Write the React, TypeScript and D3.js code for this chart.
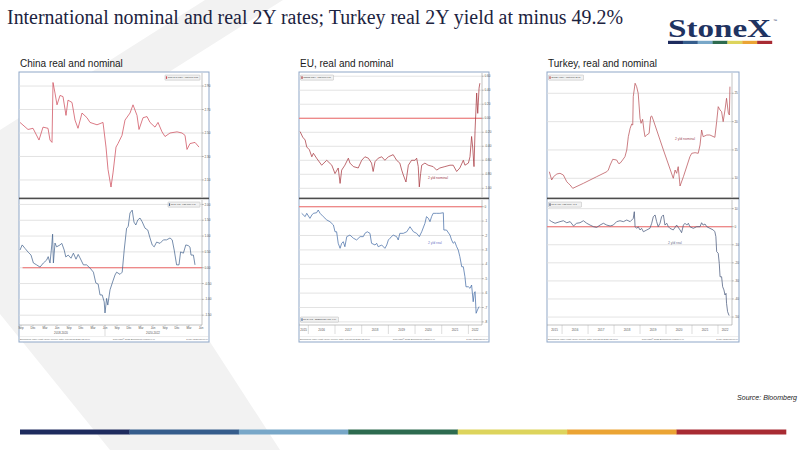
import React from "react";
import * as d3 from "d3";

type Pt = [number, number];

// ---------- DATA ----------
// China: x = months since mid-2018 (Bloomberg weekly chart), y = yield %
const chinaNominal: Pt[] = [
  [0.25, 2.59], [2.25, 2.53], [3.5, 2.54], [5, 2.44], [6, 2.55], [7.25, 2.54], [7.75, 2.44], [8.25, 2.42],
  [8.5, 2.93], [9, 2.84], [9.5, 2.74], [10.25, 2.82], [11, 2.81], [11.75, 2.65], [12.25, 2.78], [13.25, 2.76],
  [14, 2.61], [14.75, 2.54], [15.75, 2.67], [17, 2.63], [17.75, 2.59], [19.5, 2.57], [21, 2.59], [21.75, 2.38],
  [22.25, 2.19], [23, 2.04], [23.5, 2.16], [24.25, 2.38], [24.75, 2.41], [25.75, 2.48], [26.5, 2.61], [27.75, 2.67],
  [28.5, 2.74], [29.5, 2.65], [30, 2.53], [31, 2.63], [32, 2.64], [32.75, 2.59], [34, 2.55], [34.75, 2.59],
  [35.75, 2.51], [36.5, 2.47], [37.75, 2.5], [39.5, 2.51], [40.75, 2.5], [41.5, 2.48], [42, 2.36], [42.75, 2.41],
  [44, 2.42], [45, 2.38],
];
const chinaReal: Pt[] = [
  [0.25, 0.56], [0.8, 0.72], [1.5, 0.61], [2.3, 0.49], [3, 0.4], [3.6, 0.15], [4.4, 0.09], [5.25, 0.02],
  [6.1, 0.15], [6.9, 0.24], [7.3, 0.35], [7.75, 0.15], [8.2, 0.72], [8.4, 1.06], [8.6, 0.15], [9, 0.78],
  [9.4, 0.66], [10.25, 0.72], [10.7, 0.77], [11.3, 0.56], [11.7, 0.34], [12.3, 0.4], [13, 0.3], [13.6, 0.46],
  [14.25, 0.27], [14.8, 0.42], [15.25, 0.31], [16.1, 0.09], [16.9, 0.09], [17.75, -0.01], [18.6, -0.14],
  [19.2, -0.48], [19.8, -0.52], [20.25, -0.86], [20.8, -0.86], [21.3, -1.08], [21.5, -1.43], [21.9, -0.97],
  [22.2, -1.18], [22.75, -0.7], [23.4, -0.45], [24, -0.23], [24.4, -0.14], [25.25, -0.21], [25.8, -0.14],
  [26.3, 0.56], [26.9, 1.25], [27.3, 1.3], [27.75, 1.73], [28.3, 1.82], [28.75, 1.44], [29.2, 1.35],
  [29.7, 1.51], [30.25, 1.57], [30.8, 1.45], [31.5, 1.25], [32.2, 1.19], [32.75, 0.94], [33.3, 0.72],
  [33.8, 0.66], [34.4, 0.81], [35.25, 0.77], [36.1, 0.88], [36.9, 0.88], [37.75, 0.94], [38.3, 0.88],
  [38.8, 0.56], [39.4, 0.09], [40, 0.09], [40.4, 0.5], [41.1, 0.46], [41.7, 0.72], [42.3, 0.7], [42.75, 0.65],
  [43, 0.4], [43.6, 0.4], [44, 0.09],
];

// EU: x = decimal year, y = yield %
const euNominal: Pt[] = [
  [2015.69, -0.19], [2015.79, -0.27], [2015.88, -0.31], [2015.94, -0.41], [2016.04, -0.45], [2016.13, -0.55],
  [2016.19, -0.5], [2016.31, -0.57], [2016.5, -0.67], [2016.69, -0.6], [2016.88, -0.67], [2017.0, -0.79],
  [2017.12, -0.71], [2017.19, -0.93], [2017.25, -0.74], [2017.37, -0.67], [2017.5, -0.57], [2017.56, -0.64],
  [2017.69, -0.69], [2017.87, -0.71], [2018.0, -0.6], [2018.12, -0.55], [2018.25, -0.57], [2018.37, -0.64],
  [2018.43, -0.76], [2018.5, -0.62], [2018.62, -0.57], [2018.75, -0.55], [2018.87, -0.6], [2019.0, -0.55],
  [2019.18, -0.52], [2019.31, -0.6], [2019.43, -0.64], [2019.5, -0.74], [2019.56, -0.81], [2019.66, -0.91],
  [2019.75, -0.67], [2019.87, -0.6], [2020.0, -0.6], [2020.06, -0.57], [2020.12, -0.69], [2020.16, -0.98],
  [2020.21, -0.79], [2020.25, -0.67], [2020.37, -0.64], [2020.49, -0.67], [2020.68, -0.69], [2020.81, -0.74],
  [2020.93, -0.71], [2021.12, -0.69], [2021.31, -0.67], [2021.43, -0.67], [2021.56, -0.76], [2021.68, -0.71],
  [2021.81, -0.6], [2021.87, -0.67], [2022.0, -0.64], [2022.06, -0.55], [2022.12, -0.26], [2022.16, -0.41],
  [2022.21, -0.69], [2022.25, -0.17], [2022.31, 0.36], [2022.35, 0.07], [2022.4, 0.43], [2022.43, 0.5],
];
const euReal: Pt[] = [
  [2015.75, -0.46], [2015.88, -0.69], [2015.94, -0.46], [2016.06, -0.81], [2016.13, -0.58], [2016.19, -0.46],
  [2016.31, -0.42], [2016.37, -0.23], [2016.44, -0.46], [2016.56, -0.69], [2016.69, -0.92], [2016.81, -1.04],
  [2016.94, -1.27], [2017.0, -1.74], [2017.06, -1.74], [2017.12, -2.54], [2017.19, -2.89], [2017.25, -2.54],
  [2017.31, -2.43], [2017.37, -2.78], [2017.44, -2.08], [2017.56, -1.97], [2017.69, -2.19], [2017.81, -2.31],
  [2017.94, -2.08], [2018.06, -2.08], [2018.12, -1.85], [2018.21, -1.74], [2018.31, -1.85], [2018.37, -2.54],
  [2018.5, -2.66], [2018.56, -2.54], [2018.62, -2.78], [2018.75, -2.66], [2018.87, -2.89], [2018.94, -2.66],
  [2019.0, -2.31], [2019.06, -2.19], [2019.18, -1.97], [2019.31, -2.08], [2019.37, -2.31], [2019.43, -1.85],
  [2019.56, -1.85], [2019.69, -1.74], [2019.81, -1.39], [2019.94, -1.74], [2020.06, -1.85], [2020.16, -2.08],
  [2020.25, -1.74], [2020.37, -1.16], [2020.43, -0.69], [2020.5, -0.81], [2020.56, -1.04], [2020.62, -0.69],
  [2020.68, -0.46], [2020.81, -0.46], [2020.93, -0.46], [2021.06, -0.42], [2021.08, -1.62], [2021.18, -1.62],
  [2021.31, -1.97], [2021.37, -2.31], [2021.43, -2.54], [2021.49, -2.43], [2021.56, -2.78], [2021.62, -3.01],
  [2021.68, -3.47], [2021.75, -4.17], [2021.81, -4.17], [2021.87, -4.86], [2021.91, -5.56], [2022.0, -5.56],
  [2022.06, -5.67], [2022.12, -5.44], [2022.18, -6.6], [2022.22, -6.01], [2022.25, -5.9], [2022.29, -7.4],
  [2022.34, -7.17], [2022.4, -6.94],
];

// Turkey: x = decimal year, y = yield %
const turkeyNominal: Pt[] = [
  [2015.51, 11.16], [2015.6, 9.7], [2015.67, 10.28], [2015.8, 10.76], [2015.92, 10.88], [2016.05, 10.58],
  [2016.18, 9.4], [2016.24, 9.11], [2016.31, 8.82], [2016.41, 8.23], [2016.82, 9.11], [2017.33, 10.28],
  [2017.72, 11.16], [2017.78, 11.46], [2017.85, 12.34], [2017.95, 13.35], [2018.1, 13.23], [2018.17, 12.64],
  [2018.23, 12.64], [2018.33, 13.23], [2018.42, 13.81], [2018.49, 15.0], [2018.55, 17.34], [2018.62, 18.82],
  [2018.68, 19.58], [2018.72, 19.4], [2018.74, 24.4], [2018.81, 26.77], [2018.87, 26.17], [2018.93, 25.0],
  [2019.0, 20.59], [2019.04, 19.7], [2019.1, 20.41], [2019.15, 18.52], [2019.19, 17.34], [2019.26, 17.64],
  [2019.35, 17.94], [2019.41, 20.87], [2019.45, 21.0], [2019.51, 20.29], [2019.9, 15.0], [2020.28, 10.0],
  [2020.35, 11.46], [2020.41, 10.88], [2020.47, 12.05], [2020.54, 8.64], [2020.67, 10.28], [2020.92, 13.81],
  [2020.99, 14.41], [2021.12, 14.52], [2021.24, 14.41], [2021.31, 15.88], [2021.37, 18.52], [2021.43, 17.34],
  [2021.57, 17.64], [2021.69, 17.64], [2021.88, 17.23], [2021.95, 19.99], [2022.01, 22.64], [2022.08, 22.05],
  [2022.14, 21.75], [2022.2, 19.99], [2022.27, 22.05], [2022.33, 24.12], [2022.4, 21.47], [2022.44, 21.17],
  [2022.46, 26.17],
];
const turkeyReal: Pt[] = [
  [2015.51, 3.7], [2015.6, 2.8], [2015.73, 1.9], [2015.92, 2.8], [2016.05, 3.3], [2016.18, 2.2], [2016.31, 2.8],
  [2016.44, 0.4], [2016.56, 1.9], [2016.69, 2.2], [2016.82, 3.3], [2016.95, 1.9], [2017.08, 0.9], [2017.21, 0.0],
  [2017.33, -0.4], [2017.46, 0.9], [2017.59, 1.9], [2017.72, 0.9], [2017.85, 0.4], [2017.97, 0.9], [2018.1, 2.8],
  [2018.23, 3.3], [2018.36, 2.8], [2018.49, 3.7], [2018.62, 2.8], [2018.74, 4.6], [2018.78, 8.3], [2018.81, 0.0],
  [2018.87, -0.9], [2018.93, 0.0], [2019.0, -1.8], [2019.06, -0.9], [2019.13, -2.8], [2019.26, -1.8],
  [2019.38, -0.9], [2019.45, 1.9], [2019.51, 5.5], [2019.58, 6.5], [2019.64, 2.8], [2019.7, 0.0], [2019.77, 1.9],
  [2019.83, 5.5], [2019.9, 6.5], [2019.96, 0.9], [2020.03, 1.9], [2020.09, 0.0], [2020.15, -0.9], [2020.28, -1.8],
  [2020.41, 0.9], [2020.54, -1.8], [2020.6, -3.3], [2020.67, 0.9], [2020.73, 1.9], [2020.8, 0.9], [2020.86, 1.9],
  [2020.92, 0.0], [2021.05, -0.9], [2021.18, 0.0], [2021.31, 0.0], [2021.37, 2.2], [2021.43, 0.9], [2021.5, 1.5],
  [2021.57, 0.0], [2021.69, -0.9], [2021.82, -1.8], [2021.88, -2.8], [2021.92, -5.5], [2021.95, -13.8],
  [2022.01, -14.7], [2022.05, -20.3], [2022.08, -27.7], [2022.14, -27.7], [2022.18, -33.2], [2022.23, -35.0],
  [2022.27, -37.8], [2022.31, -36.9], [2022.33, -42.4], [2022.37, -47.0], [2022.42, -48.9], [2022.43, -49.2],
];

// Axis ticks / labels
const chinaNominalTicks = [2.9, 2.7, 2.5, 2.3, 2.1];
const chinaRealTicks = [2, 1.5, 1, 0.5, 0, -0.5, -1, -1.5];
const euNominalTicks = [0.6, 0.4, 0.2, 0, -0.2, -0.4, -0.6, -0.8, -1.0];
const euRealTicks = [0, -1, -2, -3, -4, -5, -6, -7, -8];
const turkeyNominalTicks = [25, 20, 15, 10];
const turkeyRealTicks = [10, 0, -10, -20, -30, -40, -50];

const chinaMonthTicks = [0.5, 3.5, 6.5, 9.5, 12.5, 15.5, 18.5, 21.5, 24.5, 27.5, 30.5, 33.5, 36.5, 39.5, 42.5, 45.5];
const chinaMonthLabels = ["Sep", "Dec", "Mar", "Jun", "Sep", "Dec", "Mar", "Jun", "Sep", "Dec", "Mar", "Jun", "Sep", "Dec", "Mar", "Jun"];
const chinaPeriodLabels = ["2018-2020", "2020-2022"];
const chinaPeriodCenters = [10.5, 33.5];
const chinaPeriodBreak = 21.5;
const yearTicks = [2015, 2016, 2017, 2018, 2019, 2020, 2021, 2022];

const stripeColors = ["#1e2b5e", "#355d8c", "#78a7c8", "#2d6b4f", "#ddd45c", "#eba434", "#a82b33"];

// ---------- LAYOUT ----------
const SANS = "'Liberation Sans', Arial, sans-serif";
const SERIF = "'Liberation Serif', 'Times New Roman', serif";
const TOP_RANGE: [number, number] = [197, 73];
const BOT_RANGE: [number, number] = [325, 200];
const LEGEND_FONT = 2.0;

interface ChartSpec {
  data: Pt[];
  color: string;
  domain: [number, number];
  ticks: number[];
  fmt: (v: number) => string;
  zeroLine?: boolean;
  zeroFrom?: number;
  legend: string;
  legendSide: "left" | "right";
  legendAtBottom?: boolean;
  note?: string;
  noteX?: number;
  noteY?: number;
  noteColor?: string;
}

function Chart({ spec, range, x, left, axisX }: { spec: ChartSpec; range: [number, number]; x: d3.ScaleLinear<number, number>; left: number; axisX: number }) {
  const y = d3.scaleLinear().domain(spec.domain).range(range);
  const line = d3.line<Pt>().x((d) => x(d[0])).y((d) => y(d[1]));
  const legendW = 4 + spec.legend.length * LEGEND_FONT * 0.5;
  const lx = spec.legendSide === "left" ? left + 1.5 : axisX - legendW - 2;
  const ly = spec.legendAtBottom ? range[0] - 8 : range[1] + 2;
  return (
    <g>
      {spec.ticks.map((t) => (
        <line key={"g" + t} x1={left} x2={axisX} y1={y(t)} y2={y(t)} stroke="#dcdcdc" strokeWidth={0.8} />
      ))}
      {spec.zeroLine && (
        <line x1={spec.zeroFrom !== undefined ? x(spec.zeroFrom) : left} x2={axisX} y1={y(0)} y2={y(0)} stroke="#ef6a6a" strokeWidth={1.1} />
      )}
      <path d={line(spec.data) || ""} fill="none" stroke={spec.color} strokeWidth={0.75} strokeLinejoin="round" />
      <line x1={axisX} x2={axisX} y1={range[1]} y2={range[0]} stroke="#9a9a9a" strokeWidth={0.6} />
      {spec.ticks.map((t) => (
        <g key={"t" + t}>
          <line x1={axisX} x2={axisX + 1.8} y1={y(t)} y2={y(t)} stroke="#777" strokeWidth={0.5} />
          <text x={axisX + 2.4} y={y(t) + 1.1} fontSize={3.1} fill="#555" fontFamily={SANS}>
            {spec.fmt(t)}
          </text>
        </g>
      ))}
      <g>
        <rect x={lx} y={ly} width={legendW} height={5.2} fill="#f1f1f1" stroke="#a8a8a8" strokeWidth={0.4} rx={0.6} />
        <rect x={lx + 0.9} y={ly + 1.3} width={1.2} height={2.6} fill={spec.color} />
        <text x={lx + 2.8} y={ly + 3.4} fontSize={LEGEND_FONT} fill="#333" fontFamily={SANS}>
          {spec.legend}
        </text>
      </g>
      {spec.note && (
        <text x={spec.noteX} y={spec.noteY} fontSize={3.4} fill={spec.noteColor} fontFamily={SANS}>
          {spec.note}
        </text>
      )}
    </g>
  );
}

interface PanelProps {
  title: string;
  left: number;
  axisX: number;
  right: number;
  xDomain: [number, number];
  top: ChartSpec;
  bottom: ChartSpec;
  kind: "months" | "years";
}

function Panel({ title, left, axisX, right, xDomain, top, bottom, kind }: PanelProps) {
  const x = d3.scaleLinear().domain(xDomain).range([left, axisX]);
  const boxTop = 72;
  const boxBottom = 342;
  return (
    <g>
      <text x={left + 1} y={67} fontSize={10} fill="#1a1a1a" fontFamily={SANS}>
        {title}
      </text>
      <rect x={left} y={boxTop} width={right - left} height={boxBottom - boxTop} fill="#ffffff" stroke="#8fa7c8" strokeWidth={1} />
      <Chart spec={top} range={TOP_RANGE} x={x} left={left} axisX={axisX} />
      <rect x={left} y={197.6} width={right - left} height={1.6} fill="#4d4d4d" />
      <Chart spec={bottom} range={BOT_RANGE} x={x} left={left} axisX={axisX} />
      <line x1={left} x2={axisX} y1={325} y2={325} stroke="#9a9a9a" strokeWidth={0.6} />
      {kind === "months" ? (
        <g>
          {chinaMonthTicks.map((m, i) => (
            <g key={"m" + i}>
              <line x1={x(m)} x2={x(m)} y1={325} y2={326.6} stroke="#888" strokeWidth={0.4} />
              <text x={x(m)} y={329.2} fontSize={2.9} fill="#555" textAnchor="middle" fontFamily={SANS}>
                {chinaMonthLabels[i]}
              </text>
            </g>
          ))}
          <line x1={x(chinaPeriodBreak)} x2={x(chinaPeriodBreak)} y1={325} y2={336} stroke="#aaa" strokeWidth={0.4} />
          {chinaPeriodLabels.map((p, i) => (
            <text key={p} x={x(chinaPeriodCenters[i])} y={333.6} fontSize={2.9} fill="#555" textAnchor="middle" fontFamily={SANS}>
              {p}
            </text>
          ))}
        </g>
      ) : (
        <g>
          {yearTicks.map((yr) => {
            const a = Math.max(yr, xDomain[0]);
            const b = Math.min(yr + 1, xDomain[1]);
            return (
              <g key={yr}>
                {yr > xDomain[0] && <line x1={x(yr)} x2={x(yr)} y1={325} y2={334} stroke="#aaa" strokeWidth={0.4} />}
                <text x={x((a + b) / 2)} y={331.2} fontSize={3} fill="#555" textAnchor="middle" fontFamily={SANS}>
                  {yr}
                </text>
              </g>
            );
          })}
        </g>
      )}
      <line x1={left} x2={right} y1={336.6} y2={336.6} stroke="#cfcfcf" strokeWidth={0.4} />
      <text x={left + 1} y={339.8} fontSize={2.3} fill="#666" fontFamily={SANS}>
        Bloomberg Index (Last Value) Weekly data. Mid 02/05/2022 12:01:04
      </text>
      <text x={(left + right) / 2 + 20} y={339.8} fontSize={2.3} fill="#666" textAnchor="middle" fontFamily={SANS}>
        Copyright© 2022 Bloomberg Finance L.P.
      </text>
      <text x={right - 1} y={339.8} fontSize={2.3} fill="#666" textAnchor="end" fontFamily={SANS}>
        2-May-2022 12:01:04
      </text>
    </g>
  );
}

const f2 = (v: number) => v.toFixed(2);
const f0 = (v: number) => v.toFixed(0);

export default function App() {
  const chevron = [
    [205, 0], [283, 0], [74, 132], [280, 450], [110, 450], [0, 314], [0, 130],
  ];
  const stripeX = d3.scaleLinear().domain([0, stripeColors.length]).range([20, 786]);
  const logoX = d3.scaleLinear().domain([0, stripeColors.length]).range([668, 772]);
  return (
    <svg width={800} height={450} viewBox="0 0 800 450" style={{ position: "fixed", left: 0, top: 0, background: "#fff" }}>
      <rect x={0} y={0} width={800} height={450} fill="#ffffff" />
      <polygon points={chevron.map((p) => p.join(",")).join(" ")} fill="#f2f2f2" />
      <text x={7} y={24} fontSize={20} fill="#1c2340" fontFamily={SERIF} textLength={616} lengthAdjust="spacingAndGlyphs">
        International nominal and real 2Y rates; Turkey real 2Y yield at minus 49.2%
      </text>
      <text x={668} y={36.5} fontSize={26} fill="#1f3361" fontFamily={SERIF} fontWeight="bold" textLength={103} lengthAdjust="spacingAndGlyphs">
        StoneX
      </text>
      <text x={773} y={22} fontSize={4} fill="#1f3361" fontFamily={SANS}>
        ™
      </text>
      {stripeColors.map((c, i) => (
        <rect key={"l" + c} x={logoX(i)} y={40.8} width={logoX(i + 1) - logoX(i) + 0.2} height={3.2} fill={c} />
      ))}

      <Panel
        title="China real and nominal"
        left={19}
        axisX={202}
        right={209}
        xDomain={[0, 45.75]}
        kind="months"
        top={{
          data: chinaNominal, color: "#cf4f5d", domain: [1.955, 3.011], ticks: chinaNominalTicks, fmt: f2,
          legend: "GCNY2YR Index - Last Price 2.38", legendSide: "right",
        }}
        bottom={{
          data: chinaReal, color: "#4a6892", domain: [-1.81, 2.14], ticks: chinaRealTicks, fmt: f2,
          zeroLine: true, zeroFrom: 0.9,
          legend: "CN 2Y real - Last Price 0.09", legendSide: "right",
        }}
      />
      <Panel
        title="EU, real and nominal"
        left={299}
        axisX={482}
        right={489}
        xDomain={[2015.65, 2022.51]}
        kind="years"
        top={{
          data: euNominal, color: "#a83a42", domain: [-1.124, 0.646], ticks: euNominalTicks, fmt: f2,
          zeroLine: true,
          legend: "GDBR2 Index - Last Price 0.50", legendSide: "left",
          note: "2 yld nominal", noteX: 428, noteY: 179, noteColor: "#9b3a48",
        }}
        bottom={{
          data: euReal, color: "#4a70a8", domain: [-8.215, 0.465], ticks: euRealTicks, fmt: f0,
          zeroLine: true,
          legend: "EU 2Y real - GDBR2 less HICP -6.94", legendSide: "left", legendAtBottom: true,
          note: "2 yld real", noteX: 428, noteY: 244, noteColor: "#6b78c8",
        }}
      />
      <Panel
        title="Turkey, real and nominal"
        left={547}
        axisX={732}
        right={739}
        xDomain={[2015.42, 2022.54]}
        kind="years"
        top={{
          data: turkeyNominal, color: "#b9535a", domain: [6.7, 28.58], ticks: turkeyNominalTicks, fmt: f0,
          legend: "IECM2Y Index - Last Price 26.17", legendSide: "left",
          note: "2 yld nominal", noteX: 675, noteY: 140, noteColor: "#a04a55",
        }}
        bottom={{
          data: turkeyReal, color: "#4b5b7e", domain: [-54.4, 14.78], ticks: turkeyRealTicks, fmt: f0,
          zeroLine: true,
          legend: "TR 2Y real - Last Price -49.2", legendSide: "left",
          note: "2 yld real", noteX: 668, noteY: 244, noteColor: "#6a7590",
        }}
      />

      <text x={797} y={400} fontSize={7} fontStyle="italic" fill="#222" textAnchor="end" fontFamily={SANS}>
        Source: Bloomberg
      </text>
      {stripeColors.map((c, i) => (
        <rect key={"s" + c} x={stripeX(i)} y={429.5} width={stripeX(i + 1) - stripeX(i) + 0.3} height={5} fill={c} />
      ))}
    </svg>
  );
}
